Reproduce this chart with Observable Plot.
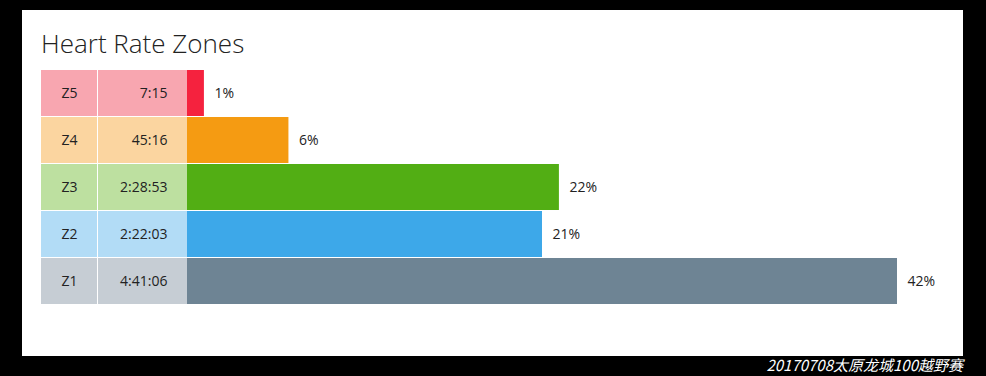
<!DOCTYPE html>
<html>
<head>
<meta charset="utf-8">
<script src="https://cdn.jsdelivr.net/npm/d3@7"></script>
<script src="https://cdn.jsdelivr.net/npm/@observablehq/plot@0.6"></script>
<style>
  html, body { margin: 0; padding: 0; background: #000; width: 986px; height: 376px; overflow: hidden; }
  #panel { position: absolute; left: 22px; top: 10px; width: 941px; height: 346px; background: #fff; }
  #title { position: absolute; left: 19px; top: 15px; font-family: "Open Sans", sans-serif; font-weight: 300; font-size: 26px; color: #222; letter-spacing: 0px; }
  #chart { position: absolute; left: 0px; top: 60px; }
  #caption { position: absolute; right: 23px; top: 355px; font-family: "Noto Sans CJK SC", sans-serif; font-style: italic; font-size: 15px; color: #fff; line-height: 20px; }
</style>
</head>
<body>
<div id="panel">
  <div id="title">Heart Rate Zones</div>
  <div id="chart"></div>
</div>
<div id="caption">20170708太原龙城100越野赛</div>
<script>
const zones = ["Z5", "Z4", "Z3", "Z2", "Z1"];
const times = ["7:15", "45:16", "2:28:53", "2:22:03", "4:41:06"];
const percents = [1, 6, 22, 21, 42];
const barColors = ["#f5223e", "#f59b12", "#52ae14", "#3da8e9", "#6e8494"];
const cellColors = ["#f8a6b0", "#fbd5a0", "#bde0a0", "#b2dcf6", "#c6cdd4"];

const data = zones.map((z, i) => ({zone: z, time: times[i], pct: percents[i], bar: barColors[i], cell: cellColors[i]}));

// layout (SVG pixels)
const W = 941, mL = 165, mR = 66;
const frameRight = W - mR;
const zoneCol = [19, 75], timeCol = [76, 165];

const chart = Plot.plot({
  width: W,
  height: 235,
  marginLeft: mL,
  marginRight: mR,
  marginTop: 0,
  marginBottom: 0,
  x: {domain: [0, 42], axis: null},
  y: {domain: zones, axis: null, padding: 0},
  color: {type: "identity"},
  style: {fontFamily: "Open Sans, sans-serif", fontSize: "14px", color: "#222", background: "transparent"},
  marks: [
    Plot.cell(data, {y: "zone", fill: "cell", insetLeft: zoneCol[0] - mL, insetRight: frameRight - zoneCol[1], insetBottom: 1}),
    Plot.cell(data, {y: "zone", fill: "cell", insetLeft: timeCol[0] - mL, insetRight: frameRight - timeCol[1], insetBottom: 1}),
    Plot.barX(data, {x: "pct", y: "zone", fill: "bar", insetBottom: 1, insetTop: 0}),
    Plot.text(data, {y: "zone", text: "zone", frameAnchor: "left", dx: (zoneCol[0] + zoneCol[1]) / 2 - mL, textAnchor: "middle", fill: "#222", dy: -0.5}),
    Plot.text(data, {y: "zone", text: "time", frameAnchor: "left", dx: timeCol[1] - 20 - mL, textAnchor: "end", fill: "#222", dy: -0.5}),
    Plot.text(data, {x: "pct", y: "zone", text: d => d.pct + "%", dx: 10, textAnchor: "start", fill: "#222", dy: -0.5})
  ]
});
document.getElementById("chart").appendChild(chart);
</script>
</body>
</html>
